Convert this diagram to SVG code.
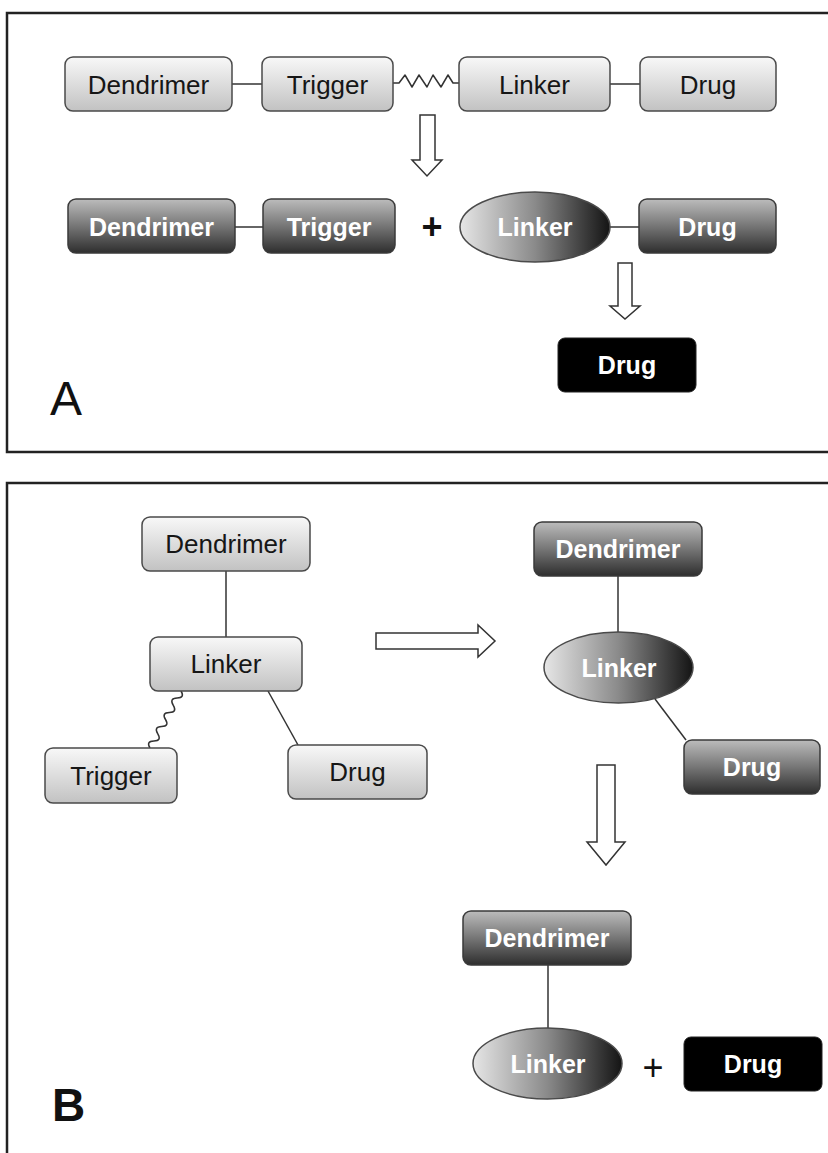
<svg xmlns="http://www.w3.org/2000/svg" width="828" height="1153" viewBox="0 0 828 1153">
<defs>
<linearGradient id="gLight" x1="0" y1="0" x2="0" y2="1">
<stop offset="0" stop-color="#f8f8f8"/><stop offset="1" stop-color="#c2c2c2"/>
</linearGradient>
<linearGradient id="gDark" x1="0" y1="0" x2="0" y2="1">
<stop offset="0" stop-color="#bcbcbc"/><stop offset="0.5" stop-color="#767676"/><stop offset="1" stop-color="#2e2e2e"/>
</linearGradient>
<linearGradient id="gEll" x1="0" y1="0" x2="1" y2="0">
<stop offset="0" stop-color="#e6e6e6"/><stop offset="0.5" stop-color="#8a8a8a"/><stop offset="1" stop-color="#141414"/>
</linearGradient>
</defs>
<style>
.light{fill:url(#gLight);stroke:#4a4a4a;stroke-width:1.5}
.dark{fill:url(#gDark);stroke:#3a3a3a;stroke-width:1.5}
.ell{fill:url(#gEll);stroke:#4a4a4a;stroke-width:1.5}
.black{fill:#000;stroke:#222;stroke-width:1}
.t{font-family:"Liberation Sans",Arial,sans-serif;font-size:26px;text-anchor:middle;fill:#161616}
.tw{font-family:"Liberation Sans",Arial,sans-serif;font-size:25px;font-weight:bold;text-anchor:middle;fill:#fff}
.ln{stroke:#333;stroke-width:1.5;fill:none}
.arr{fill:#fff;stroke:#333;stroke-width:1.5}
.frame{fill:none;stroke:#222;stroke-width:2.5}
</style>
<rect width="828" height="1153" fill="#fff"/>
<g id="frames">
<path class="frame" d="M830,13 L7,13 L7,452 L830,452"/>
<path class="frame" d="M830,483 L7,483 L7,1155"/>
</g>
<g id="connectors">
<line class="ln" x1="232" y1="84" x2="262" y2="84"/>
<path class="ln" stroke-linejoin="round" d="M393,83 L399,83 L405,75 L412,87 L419,75 L427,87 L433,75 L441,87 L448,75 L453,83 L459,83"/>
<line class="ln" x1="610" y1="84" x2="640" y2="84"/>
<line class="ln" x1="235" y1="227" x2="263" y2="227"/>
<line class="ln" x1="610" y1="227" x2="639" y2="227"/>
<line class="ln" x1="226" y1="571" x2="226" y2="637"/>
<path class="ln" d="M181,691 Q185.2,697.9 177.1,698.1 Q169.0,698.3 173.3,705.3 Q177.5,712.2 169.4,712.4 Q161.3,712.6 165.5,719.5 Q169.7,726.4 161.6,726.6 Q153.5,726.8 157.8,733.8 Q162.0,740.7 153.9,740.9 Q145.8,741.1 150,748"/>
<line class="ln" x1="268" y1="691" x2="298" y2="745"/>
<line class="ln" x1="618" y1="576" x2="618" y2="632"/>
<line class="ln" x1="655" y1="699" x2="686" y2="740"/>
<line class="ln" x1="548" y1="965" x2="548" y2="1028"/>
<polygon class="arr" points="420,115 435,115 435,160 442,160 427,176 412,160 420,160"/>
<polygon class="arr" points="618,263 632,263 632,306 640,306 625,319 610,306 618,306"/>
<polygon class="arr" points="376,633 478,633 478,625 495,641 478,657 478,649 376,649"/>
<polygon class="arr" points="597,765 615,765 615,842 625,842 606,865 587,842 597,842"/>
</g>
<g id="a-dendrimer1"><rect class="light" x="65" y="57" width="167" height="54" rx="8"/><text class="t" x="148.5" y="94">Dendrimer</text></g>
<g id="a-trigger1"><rect class="light" x="262" y="57" width="131" height="54" rx="8"/><text class="t" x="327.5" y="94">Trigger</text></g>
<g id="a-linker1"><rect class="light" x="459" y="57" width="151" height="54" rx="8"/><text class="t" x="534.5" y="94">Linker</text></g>
<g id="a-drug1"><rect class="light" x="640" y="57" width="136" height="54" rx="8"/><text class="t" x="708" y="94">Drug</text></g>
<g id="a-dendrimer2"><rect class="dark" x="68" y="199" width="167" height="54" rx="8"/><text class="tw" x="151.5" y="236">Dendrimer</text></g>
<g id="a-trigger2"><rect class="dark" x="263" y="199" width="132" height="54" rx="8"/><text class="tw" x="329" y="236">Trigger</text></g>
<g id="a-plus"><text x="432" y="239" font-family="Liberation Sans, Arial, sans-serif" font-size="36" font-weight="bold" text-anchor="middle" fill="#111">+</text></g>
<g id="a-linker2"><ellipse class="ell" cx="535" cy="227" rx="75" ry="35"/><text class="tw" x="535" y="236">Linker</text></g>
<g id="a-drug2"><rect class="dark" x="639" y="199" width="137" height="54" rx="8"/><text class="tw" x="707.5" y="236">Drug</text></g>
<g id="a-drug3"><rect class="black" x="558" y="338" width="138" height="54" rx="7"/><text class="tw" x="627" y="374">Drug</text></g>
<g id="label-a"><text x="50" y="415" font-family="Liberation Sans, Arial, sans-serif" font-size="48" fill="#111">A</text></g>
<g id="b-dendrimer1"><rect class="light" x="142" y="517" width="168" height="54" rx="8"/><text class="t" x="226" y="553">Dendrimer</text></g>
<g id="b-linker1"><rect class="light" x="150" y="637" width="152" height="54" rx="8"/><text class="t" x="226" y="673">Linker</text></g>
<g id="b-trigger1"><rect class="light" x="45" y="748" width="132" height="55" rx="8"/><text class="t" x="111" y="785">Trigger</text></g>
<g id="b-drug1"><rect class="light" x="288" y="745" width="139" height="54" rx="8"/><text class="t" x="357.5" y="781">Drug</text></g>
<g id="b-dendrimer2"><rect class="dark" x="534" y="522" width="168" height="54" rx="8"/><text class="tw" x="618" y="558">Dendrimer</text></g>
<g id="b-linker2"><ellipse class="ell" cx="618.5" cy="667.5" rx="74.5" ry="35.5"/><text class="tw" x="619" y="677">Linker</text></g>
<g id="b-drug2"><rect class="dark" x="684" y="740" width="136" height="54" rx="8"/><text class="tw" x="752" y="776">Drug</text></g>
<g id="b-dendrimer3"><rect class="dark" x="463" y="911" width="168" height="54" rx="8"/><text class="tw" x="547" y="947">Dendrimer</text></g>
<g id="b-linker3"><ellipse class="ell" cx="547.5" cy="1063.5" rx="74.5" ry="35.5"/><text class="tw" x="548" y="1073">Linker</text></g>
<g id="b-plus"><text x="653" y="1080" font-family="Liberation Sans, Arial, sans-serif" font-size="36" text-anchor="middle" fill="#111">+</text></g>
<g id="b-drug3"><rect class="black" x="684" y="1037" width="138" height="54" rx="7"/><text class="tw" x="753" y="1073">Drug</text></g>
<g id="label-b"><text x="52" y="1121" font-family="Liberation Sans, Arial, sans-serif" font-size="46" font-weight="bold" fill="#111">B</text></g>
</svg>
